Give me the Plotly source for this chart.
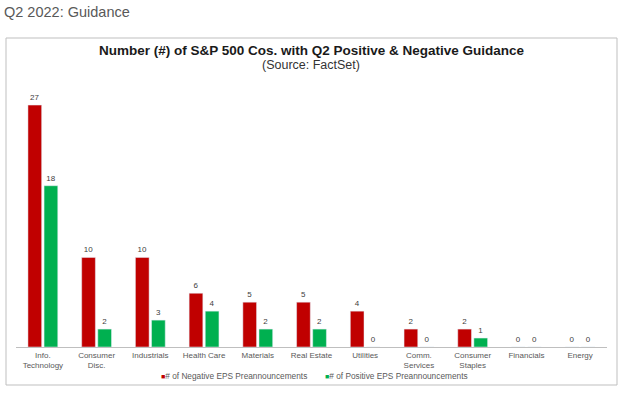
import plotly.graph_objects as go

categories = ["Info.<br>Technology", "Consumer<br>Disc.", "Industrials", "Health Care", "Materials",
              "Real Estate", "Utilities", "Comm.<br>Services", "Consumer<br>Staples", "Financials", "Energy"]
negative = [27, 10, 10, 6, 5, 5, 4, 2, 2, 0, 0]
positive = [18, 2, 3, 4, 2, 2, 0, 0, 1, 0, 0]
series_names = ["# of Negative EPS Preannouncements", "# of Positive EPS Preannouncements"]
series_colors = ["#C00000", "#00B050"]

FONT = "Arial, Liberation Sans, sans-serif"
W, H = 630, 396
L, R, T, B = 16, 23, 80, 49
pw, ph = W - L - R, H - T - B

def px(x):
    return (x - L) / pw

def py(y):
    return (H - B - y) / ph

fig = go.Figure()
for vals, name, col in zip([negative, positive], series_names, series_colors):
    fig.add_trace(go.Bar(x=categories, y=vals, name=name, marker_color=col,
                         text=vals, textposition="outside", cliponaxis=False,
                         textfont=dict(size=8, color="#404040", family=FONT),
                         showlegend=False))

legend_x = [159, 323]
legend_ann = [
    dict(text=f"<span style='color:{col}; font-size:7px'>■</span>{name}",
         xref="paper", yref="paper", x=px(lx), y=py(376), xanchor="left", yanchor="middle",
         showarrow=False, font=dict(size=8.3, color="#595959", family=FONT))
    for lx, name, col in zip(legend_x, series_names, series_colors)
]

fig.update_layout(
    width=W, height=H,
    margin=dict(l=L, r=R, t=T, b=B, pad=0, autoexpand=False),
    paper_bgcolor="white", plot_bgcolor="white",
    barmode="group", bargap=0.4, bargroupgap=0.15,
    font=dict(family=FONT, size=8, color="#595959"),
    showlegend=False,
    xaxis=dict(showline=True, linecolor="#BFBFBF", linewidth=1, ticks="", showgrid=False,
               tickfont=dict(size=8, color="#595959", family=FONT), fixedrange=True),
    yaxis=dict(range=[0, 29.8], visible=False, showgrid=False, fixedrange=True),
    shapes=[dict(type="rect", xref="paper", yref="paper",
                 x0=px(6), x1=px(617), y0=py(385), y1=py(38),
                 line=dict(color="#BFBFBF", width=1), fillcolor="rgba(0,0,0,0)", layer="below")],
    annotations=[
        dict(text="Q2 2022: Guidance", xref="paper", yref="paper", x=px(2), y=py(12),
             xanchor="left", yanchor="middle", showarrow=False,
             font=dict(size=14.5, color="#595959", family=FONT)),
        dict(text="<b>Number (#) of S&P 500 Cos. with Q2 Positive & Negative Guidance</b>",
             xref="paper", yref="paper", x=px(312), y=py(51), xanchor="center", yanchor="middle",
             showarrow=False, font=dict(size=13.5, color="#1a1a1a", family=FONT)),
        dict(text="(Source: FactSet)", xref="paper", yref="paper", x=px(311), y=py(65),
             xanchor="center", yanchor="middle", showarrow=False,
             font=dict(size=12.5, color="#333333", family=FONT)),
    ] + legend_ann,
)

fig.write_html("out.html", config={"displayModeBar": False},
               post_script="document.body.style.margin='0';")
